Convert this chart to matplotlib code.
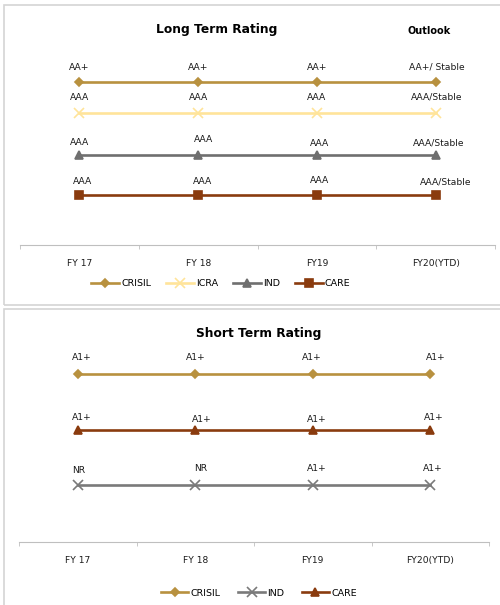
import matplotlib
matplotlib.use("Agg")
import matplotlib.pyplot as plt
from matplotlib.patches import Rectangle
from matplotlib.lines import Line2D

plt.rcParams['font.family'] = ['DejaVu Sans']

years = ["FY 17", "FY 18", "FY19", "FY20(YTD)"]

# long term rating (y is just the row height in the chart)
lt_names = ["CRISIL", "ICRA", "IND", "CARE"]
lt_level = [4.0, 3.23, 2.2, 1.23]
lt_labels = [
    ["AA+", "AA+", "AA+", "AA+/ Stable"],
    ["AAA", "AAA", "AAA", "AAA/Stable"],
    ["AAA", "AAA", "AAA", "AAA/Stable"],
    ["AAA", "AAA", "AAA", "AAA/Stable"],
]

# short term rating
st_names = ["CRISIL", "IND", "CARE"]
st_level = [3.0, 1.02, 2.0]
st_labels = [
    ["A1+", "A1+", "A1+", "A1+"],
    ["NR", "NR", "A1+", "A1+"],
    ["A1+", "A1+", "A1+", "A1+"],
]

# label nudges in pixels (dx, dy)
lt_offs = [
    [(0, 15), (0, 15), (0, 15), (1, 15)],
    [(0, 16), (0, 16), (0, 16), (1, 16)],
    [(0, 13), (5, 16), (3, 12), (3, 12)],
    [(3, 13), (4, 13), (3, 14), (10, 13)],
]
st_offs = [
    [(4, 16), (1, 16), (-1, 16), (6, 16)],
    [(1, 14), (5, 16), (4, 16), (3, 16)],
    [(4, 12), (7, 11), (4, 11), (4, 13)],
]

lt_style = {
    "CRISIL": dict(color="#b8913f", marker="D", ms=4.5),
    "ICRA": dict(color="#ffe49a", marker="x", ms=7),
    "IND": dict(color="#6f6f6f", marker="^", ms=6),
    "CARE": dict(color="#8a3b0e", marker="s", ms=5.5),
}
st_style = {
    "CRISIL": dict(color="#b8913f", marker="D", ms=4.5),
    "IND": dict(color="#7a7a7a", marker="x", ms=7),
    "CARE": dict(color="#8a3b0e", marker="^", ms=6),
}

W, H = 500, 605
fig = plt.figure(figsize=(W / 100, H / 100), dpi=100)

# panel frames
fig.add_artist(Rectangle((4 / W, 1 - 305 / H), 1.0, 300 / H, transform=fig.transFigure,
                         fill=False, ec="#d4d4d4", lw=1.2))
fig.add_artist(Rectangle((4 / W, -0.01), 1.0, 1 - 309 / H + 0.01, transform=fig.transFigure,
                         fill=False, ec="#d4d4d4", lw=1.2))


def panel(rect, top, names, levels, labels, offs, styles):
    ax = fig.add_axes(rect)
    x = list(range(len(years)))
    for i, n in enumerate(names):
        st = styles[n]
        ax.plot(x, [levels[i]] * len(x), color=st["color"], lw=1.9,
                marker=st["marker"], ms=st["ms"], mew=1.2, clip_on=False)
        for j in x:
            ax.annotate(labels[i][j], (j, levels[i]), xytext=offs[i][j],
                        textcoords="offset pixels", ha="center", va="center",
                        fontsize=6.6, color="#1a1a1a")
    ax.set_xlim(-0.5, 3.5)
    ax.set_ylim(0, top)
    for s in ["left", "right", "top"]:
        ax.spines[s].set_visible(False)
    ax.spines["bottom"].set_color("#bfbfbf")
    ax.set_yticks([])
    ax.set_xticks(x)
    ax.set_xticklabels(years, fontsize=6.6, color="#1a1a1a")
    ax.tick_params(axis="x", which="major", length=0, pad=10)
    ax.set_xticks([-0.5, 0.5, 1.5, 2.5, 3.5], minor=True)
    ax.tick_params(axis="x", which="minor", length=3, color="#bfbfbf")
    ax.patch.set_visible(False)
    return ax


panel([20 / W, 1 - 245 / H, 475 / W, 195 / H], 195 / 40.75,
      lt_names, lt_level, lt_labels, lt_offs, lt_style)
panel([19 / W, 1 - 542 / H, 470 / W, 202 / H], 202 / 56,
      st_names, st_level, st_labels, st_offs, st_style)

fig.text(217 / W, 1 - 29 / H, "Long Term Rating", ha="center", va="center",
         fontsize=8.8, fontweight="bold")
fig.text(429 / W, 1 - 31 / H, "Outlook", ha="center", va="center",
         fontsize=7, fontweight="bold")
fig.text(259 / W, 1 - 334 / H, "Short Term Rating", ha="center", va="center",
         fontsize=8.8, fontweight="bold")


def handles(names, styles):
    return [Line2D([], [], color=styles[n]["color"], lw=1.9, marker=styles[n]["marker"],
                   ms=styles[n]["ms"], mew=1.2) for n in names]


fig.legend(handles(lt_names, lt_style), lt_names, loc="center",
           bbox_to_anchor=(221 / W, 1 - 284 / H), ncol=4, frameon=False,
           fontsize=6.8, handlelength=2.9, handletextpad=0.25, columnspacing=1.6)
fig.legend(handles(st_names, st_style), st_names, loc="center",
           bbox_to_anchor=(259 / W, 1 - 593 / H), ncol=3, frameon=False,
           fontsize=6.8, handlelength=2.9, handletextpad=0.25, columnspacing=1.8)

fig.savefig("out.png", dpi=100, facecolor="white")
